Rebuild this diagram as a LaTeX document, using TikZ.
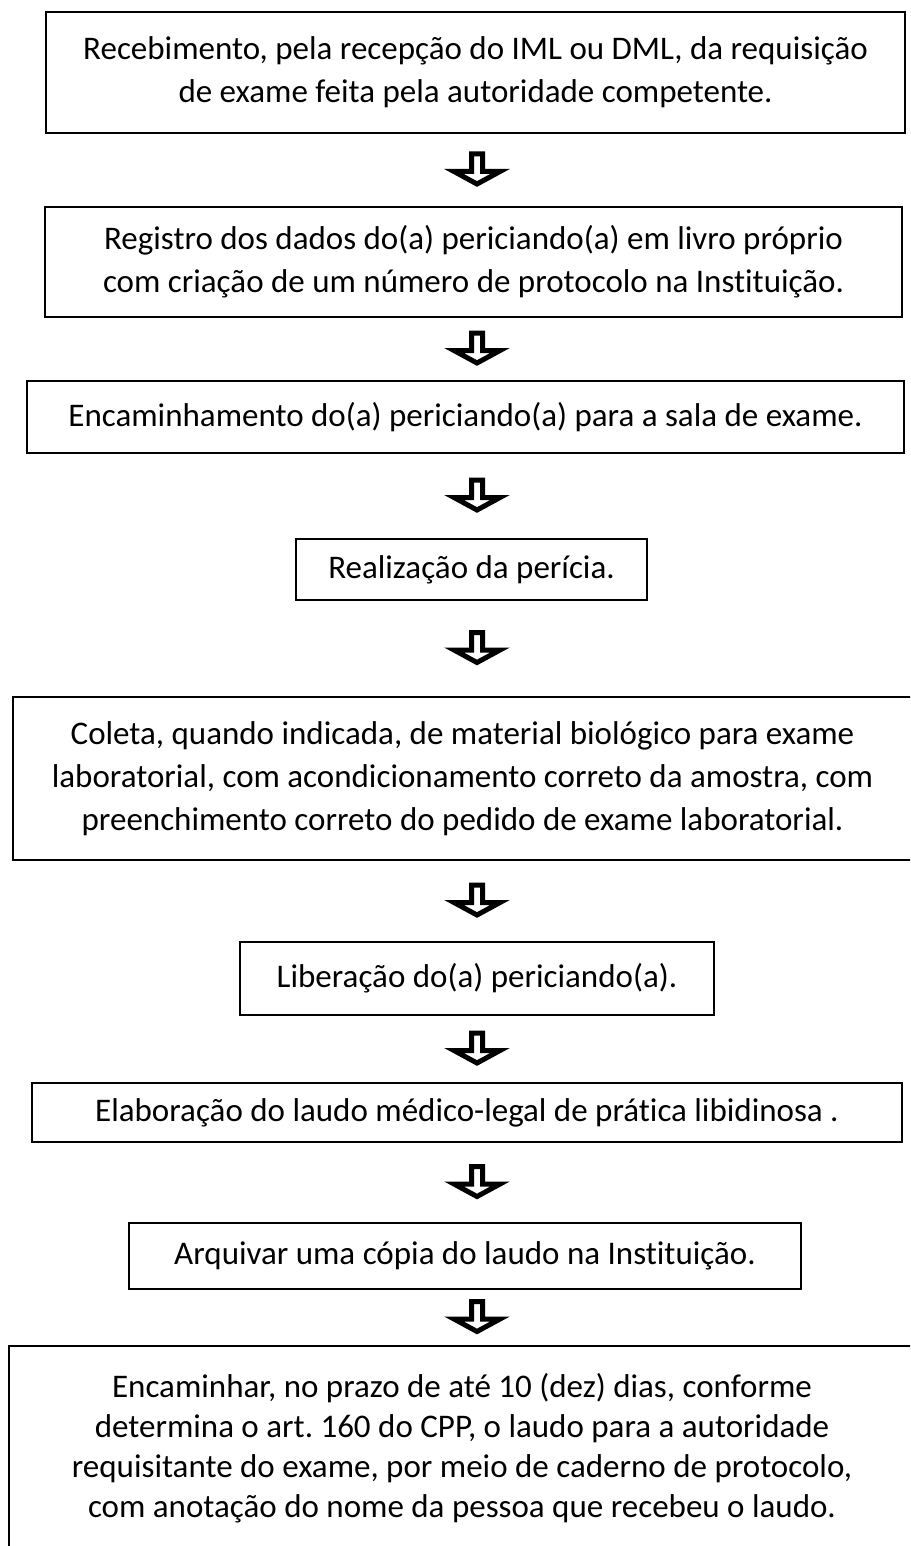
\documentclass[tikz,border=0pt]{standalone}
\usepackage{fontspec}
\setmainfont{Carlito}[Ligatures=NoCommon]
\frenchspacing
\usetikzlibrary{calc}

\begin{document}
\begin{tikzpicture}[
    x=0.5pt, y=-0.5pt,
    every node/.style={font=\fontsize{16.5}{21.5}\selectfont},
    box/.style={
        draw,
        line width=1.4pt,
        align=center,
        inner sep=0pt
    },
    size/.style 2 args={
        minimum width=#1*0.5pt,
        minimum height=#2*0.5pt
    },
    downarrow/.pic={
        \draw[line width=2.5pt, fill=white, line join=miter]
            (-5.5,-16) -- (5.5,-16) -- (5.5,1.5) -- (23,1.5) -- (0,14)
            -- (-23,1.5) -- (-5.5,1.5) -- cycle;
    }
]

\clip (0,0) rectangle (910,1546);

\node[box, size={859}{121}] (recebe) at (475.5,72.5)
{Recebimento, pela recepção do IML ou DML, da requisição\\
de exame feita pela autoridade competente.};

\node[box, size={857}{110}] (registro) at (473.5,262)
{Registro dos dados do(a) periciando(a) em livro próprio\\
com criação de um número de protocolo na Instituição.};

\node[box, size={877}{72}] (sala) at (465.5,417)
{Encaminhamento do(a) periciando(a) para a sala de exame.};

\node[box, size={351}{61}] (pericia) at (471.5,569.5)
{Realização da perícia.};

\node[box, size={899}{163}] (coleta) at (462.5,778.5)
{Coleta, quando indicada, de material biológico para exame\\
laboratorial, com acondicionamento correto da amostra, com\\
preenchimento correto do pedido de exame laboratorial.};

\node[box, size={474}{73}] (libera) at (477,978.5)
{Liberação do(a) periciando(a).};

\node[box, size={870}{59}] (laudo) at (467,1112.5)
{Elaboração do laudo médico-legal de prática libidinosa .};

\node[box, size={672}{66}] (arquivo) at (465,1256)
{Arquivar uma cópia do laudo na Instituição.};

\node[box, size={906}{204}, font=\fontsize{16.5}{20}\selectfont] (envio) at (462,1448)
{Encaminhar, no prazo de até 10 (dez) dias, conforme\\
determina o art. 160 do CPP, o laudo para a autoridade\\
requisitante do exame, por meio de caderno de protocolo,\\
com anotação do nome da pessoa que recebeu o laudo.};

% hollow arrows between the steps
\coordinate (axis) at (477,0);
\coordinate (m1) at ($(recebe.south)!0.5!(registro.north)$);
\coordinate (m2) at ($(registro.south)!0.5!(sala.north)$);
\coordinate (m3) at ($(sala.south)!0.5!(pericia.north)$);
\coordinate (m4) at ($(pericia.south)!0.5!(coleta.north)$);
\coordinate (m5) at ($(coleta.south)!0.5!(libera.north)$);
\coordinate (m6) at ($(libera.south)!0.5!(laudo.north)$);
\coordinate (m7) at ($(laudo.south)!0.5!(arquivo.north)$);
\coordinate (m8) at ($(arquivo.south)!0.5!(envio.north)$);

\pic at (m1 -| axis) {downarrow};
\pic at (m2 -| axis) {downarrow};
\pic at (m3 -| axis) {downarrow};
\pic at (m4 -| axis) {downarrow};
\pic at (m5 -| axis) {downarrow};
\pic at (m6 -| axis) {downarrow};
\pic at (m7 -| axis) {downarrow};
\pic at (m8 -| axis) {downarrow};

\end{tikzpicture}
\end{document}
